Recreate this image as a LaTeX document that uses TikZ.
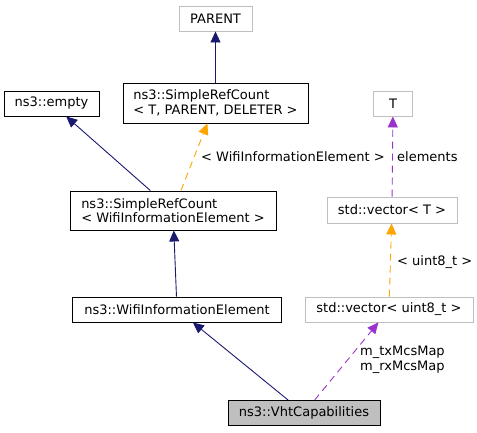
\documentclass[tikz,border=0pt]{standalone}
\usepackage{fontspec}
\setmainfont{DejaVu Sans}
\usepackage{tikz}
\usetikzlibrary{arrows.meta}

\definecolor{edgeblue}{HTML}{191970}
\definecolor{edgeorange}{HTML}{FFA500}
\definecolor{edgepurple}{HTML}{9A32CD}
\definecolor{boxgrey}{HTML}{BFBFBF}

\tikzset{
  classbox/.style={draw=black, line width=0.9pt, inner xsep=6pt, inner ysep=2pt,
    font=\fontsize{13}{14.5}\selectfont},
  extbox/.style={classbox, draw=boxgrey},
  curbox/.style={classbox, fill=boxgrey},
  inherit/.style={draw=edgeblue, line width=0.9pt,
    -{Triangle[length=11pt,width=10pt]}},
  templ/.style={draw=edgeorange, line width=0.9pt, dash pattern=on 7pt off 5pt,
    -{Triangle[length=11pt,width=10pt]}},
  usage/.style={draw=edgepurple, line width=0.9pt, dash pattern=on 7pt off 5pt,
    -{Triangle[length=11pt,width=10pt]}},
  edgelabel/.style={anchor=west, align=left, inner sep=0pt,
    font=\fontsize{13}{15.5}\selectfont}
}

\begin{document}
\begin{tikzpicture}[x=1pt, y=-1pt]
  \useasboundingbox (0,0) rectangle (477,432);

  % classes
  \node[extbox, minimum width=73pt, minimum height=25pt] (parent) at (215.5,18.5) {PARENT};
  \node[classbox, align=left, minimum width=185pt, minimum height=40pt] (srct) at (215.5,103)
    {ns3::SimpleRefCount\\< T, PARENT, DELETER >};
  \node[classbox, minimum width=95pt, minimum height=25pt] (empty) at (51.5,103.5) {ns3::empty};
  \node[classbox, align=left, minimum width=206pt, minimum height=39pt] (srcwie) at (173,210.5)
    {ns3::SimpleRefCount\\< WifiInformationElement >};
  \node[classbox, minimum width=209pt, minimum height=25pt] (wie) at (177,309.5) {ns3::WifiInformationElement};
  \node[curbox, minimum width=152pt, minimum height=25pt] (vht) at (304,413) {ns3::VhtCapabilities};
  \node[extbox, minimum width=168pt, minimum height=25pt] (vecu) at (389,309.5) {std::vector< uint8\_t >};
  \node[extbox, minimum width=130pt, minimum height=26pt] (vect) at (392,210) {std::vector< T >};
  \node[extbox, minimum width=39pt, minimum height=25pt] (tpar) at (393,103.5) {T};

  % relations
  \draw[inherit] (srct) -- (parent);
  \draw[inherit] (srcwie) -- (empty);
  \draw[templ] (srcwie) -- (srct);
  \draw[inherit] (wie) -- (srcwie);
  \draw[inherit] (vht) -- (wie);
  \draw[usage] (vht) -- (vecu);
  \draw[templ] (vecu) -- (vect);
  \draw[usage] (vect) -- (tpar);

  % labels
  \node[edgelabel] (lwie) at (201,157) {< WifiInformationElement >};
  \node[edgelabel] (lelem) at (397,157) {elements};
  \node[edgelabel] (luint) at (397,262) {< uint8\_t >};
  \node[edgelabel] (lmcs) at (360,360) {m\_txMcsMap\\m\_rxMcsMap};
\end{tikzpicture}
\end{document}
